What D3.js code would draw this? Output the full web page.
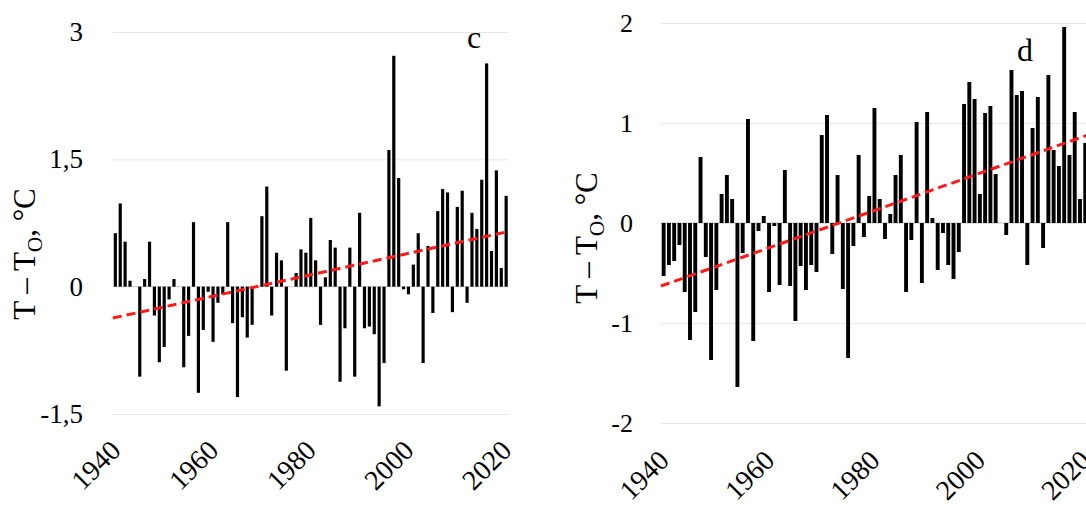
<!DOCTYPE html>
<html>
<head>
<meta charset="utf-8">
<script src="https://cdn.jsdelivr.net/npm/d3@7"></script>
<style>
  html, body { margin: 0; padding: 0; background: #fff; }
  svg { display: block; }
</style>
</head>
<body>
<div id="chart"></div>
<script>
// categories
const years = d3.range(1940, 2021);
const yearTicks = [1940, 1960, 1980, 2000, 2020];

// panel c: anomalies, T - To (°C)
const anomalyC = [
  0.63, 0.98, 0.53, 0.07, 0.00, -1.06, 0.09, 0.53, -0.34, -0.89,
  -0.71, -0.15, 0.09, 0.00, -0.95, -0.58, 0.76, -1.25, -0.51, -0.06,
  -0.65, -0.19, -0.09, 0.76, -0.43, -1.30, -0.36, -0.60, -0.45, 0.00,
  0.83, 1.18, -0.34, 0.40, 0.31, -0.99, 0.00, 0.16, 0.44, 0.40,
  0.81, 0.31, -0.45, 0.11, 0.55, 0.46, -1.12, -0.49, 0.46, -1.06,
  0.87, -0.49, -0.47, -0.56, -1.41, -0.90, 1.61, 2.72, 1.28, -0.03,
  -0.09, 0.26, 0.63, -0.90, 0.48, -0.31, 0.89, 1.15, 1.11, -0.30,
  0.94, 1.13, -0.19, 0.87, 0.68, 1.26, 2.63, 0.42, 1.37, 0.22,
  1.07
];
// panel d
const anomalyD = [
  -0.53, -0.42, -0.38, -0.22, -0.69, -1.17, -0.89, 0.66, -0.34, -1.37,
  -0.67, 0.29, 0.48, 0.24, -1.64, -0.30, 1.04, -1.18, -0.08, 0.07,
  -0.69, -0.03, -0.62, 0.53, -0.63, -0.98, -0.43, -0.67, -0.42, -0.49,
  0.88, 1.08, -0.31, 0.48, -0.66, -1.35, -0.23, 0.68, -0.14, 0.27,
  1.15, 0.24, -0.16, 0.09, 0.48, 0.68, -0.69, -0.17, 1.01, -0.60,
  1.11, 0.05, -0.47, -0.10, -0.42, -0.56, -0.29, 1.19, 1.41, 1.24,
  0.29, 1.10, 1.17, 0.49, 0.00, -0.12, 1.53, 1.28, 1.32, -0.42,
  0.95, 1.26, -0.25, 1.48, 0.73, 0.57, 1.96, 0.68, 1.11, 0.24,
  0.80
];

// linear trend, value at plot edges
const trendYears = [1939.5, 2020.5];
const trendC = [-0.37, 0.65];
const trendD = [-0.63, 0.88];

const yTicksC = [-1.5, 0, 1.5, 3];
const yTicksD = [-2, -1, 0, 1, 2];

const W = 1086, H = 513;
const font = '"Liberation Serif", "Times New Roman", serif';

const svg = d3.select('#chart').append('svg')
  .attr('width', W)
  .attr('height', H)
  .style('background', '#fff');

const commaFmt = d => String(d).replace('.', ',');

function drawPanel(opt) {
  const g = svg.append('g');
  const x = d3.scaleBand()
    .domain(years)
    .range([opt.x0, opt.x1])
    .paddingInner(opt.pad)
    .paddingOuter(opt.pad / 2);
  const xLin = d3.scaleLinear()
    .domain([years[0] - 0.5, years[years.length - 1] + 0.5])
    .range([opt.x0, opt.x1]);
  const y = d3.scaleLinear()
    .domain(opt.yDomain)
    .range([opt.yBottom, opt.yTop]);

  // gridlines
  const grid = g.append('g')
    .attr('transform', `translate(${opt.x0},0)`)
    .call(d3.axisLeft(y).tickValues(opt.yTicks.filter(d => d !== 0))
      .tickSize(-(opt.x1 - opt.x0)).tickFormat(''));
  grid.select('.domain').remove();
  grid.selectAll('line').attr('stroke', '#e6e6e6').attr('stroke-width', 1);

  // y labels
  const yAxis = g.append('g')
    .attr('transform', `translate(${opt.x0},0)`)
    .call(d3.axisLeft(y).tickValues(opt.yTicks).tickSize(0)
      .tickPadding(opt.labelPad).tickFormat(commaFmt));
  yAxis.select('.domain').remove();
  yAxis.selectAll('text')
    .attr('fill', '#000')
    .style('font-family', font)
    .style('font-size', opt.tickSize + 'px');

  // zero (category) axis line
  g.append('line')
    .attr('x1', opt.x0).attr('x2', opt.x1)
    .attr('y1', y(0)).attr('y2', y(0))
    .attr('stroke', '#d4d4d4')
    .attr('stroke-width', 1.3);

  // bars
  g.append('g').selectAll('rect')
    .data(opt.values)
    .join('rect')
    .attr('x', (d, i) => x(years[i]))
    .attr('width', x.bandwidth())
    .attr('y', d => y(Math.max(0, d)))
    .attr('height', d => Math.abs(y(d) - y(0)))
    .attr('fill', '#000');

  // trend
  const line = d3.line()
    .x(d => xLin(d[0]))
    .y(d => y(d[1]));
  g.append('path')
    .datum(trendYears.map((t, i) => [t, opt.trend[i]]))
    .attr('fill', 'none')
    .attr('stroke', '#ff1a1a')
    .attr('stroke-width', 3)
    .attr('stroke-dasharray', '9,5')
    .attr('d', line);

  // x labels
  const xAxis = g.append('g')
    .attr('transform', `translate(0,${opt.xLabelY})`)
    .call(d3.axisBottom(x).tickValues(yearTicks).tickSize(0));
  xAxis.select('.domain').remove();
  xAxis.selectAll('text')
    .attr('x', 0).attr('y', 0).attr('dy', 0)
    .attr('transform', 'translate(7,0) rotate(-45)')
    .attr('text-anchor', 'end')
    .attr('fill', '#000')
    .style('font-family', font)
    .style('font-size', opt.xTickSize + 'px');

  // y title
  const title = g.append('text')
    .attr('transform', `translate(${opt.titleX},${opt.titleY}) rotate(-90)`)
    .attr('text-anchor', 'middle')
    .style('font-family', font)
    .style('font-size', opt.titleSize + 'px')
    .attr('fill', '#000');
  title.append('tspan').text('T – T');
  title.append('tspan').attr('dy', 7).style('font-size', '0.68em').text('O');
  title.append('tspan').attr('dy', -7).text(', °C');

  // panel letter
  g.append('text')
    .attr('x', opt.letterX)
    .attr('y', opt.letterY)
    .style('font-family', font)
    .style('font-size', '32px')
    .attr('fill', '#000')
    .text(opt.letter);
}

drawPanel({
  values: anomalyC, trend: trendC, yTicks: yTicksC, yDomain: [-1.5, 3],
  x0: 112.9, x1: 508.6, yBottom: 414, yTop: 32, pad: 0.35,
  labelPad: 30, tickSize: 27, xTickSize: 28, xLabelY: 452,
  titleX: 35, titleY: 254, titleSize: 31,
  letter: 'c', letterX: 467, letterY: 48
});

drawPanel({
  values: anomalyD, trend: trendD, yTicks: yTicksD, yDomain: [-2, 2],
  x0: 661, x1: 1087.9, yBottom: 423, yTop: 23, pad: 0.26,
  labelPad: 28, tickSize: 26, xTickSize: 28, xLabelY: 462,
  titleX: 597, titleY: 238, titleSize: 31,
  letter: 'd', letterX: 1017, letterY: 61
});
</script>
</body>
</html>
